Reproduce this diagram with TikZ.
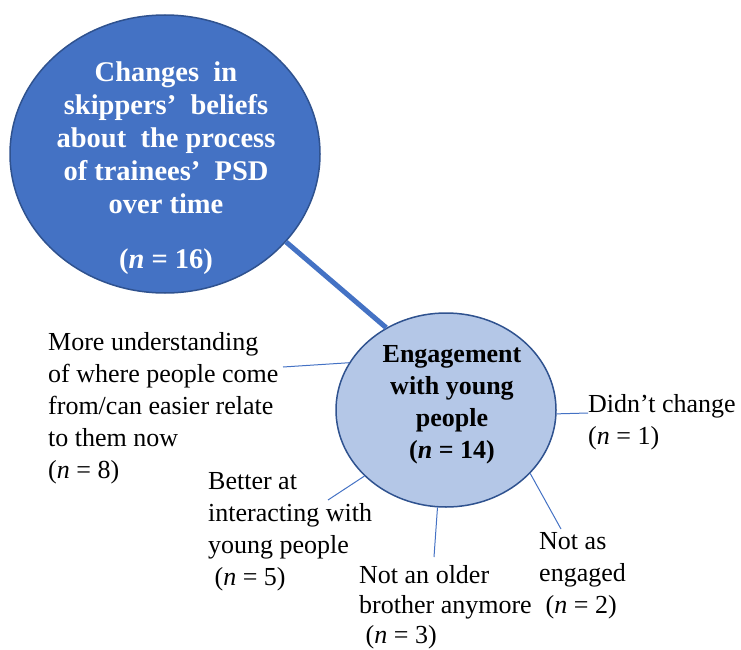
\documentclass[tikz,border=0pt]{standalone}
\usepackage{fontspec}
\setmainfont{Liberation Serif}
\usepackage{tikz}
\usetikzlibrary{shapes.geometric,positioning}
\definecolor{officeblue}{HTML}{4472C4}
\definecolor{officeline}{HTML}{2F528F}
\definecolor{officelight}{HTML}{B4C7E7}
\tikzset{
    bubble/.style={ellipse,draw=officeline,line width=1.5pt,inner sep=0pt},
    leaf/.style={anchor=north west,align=left,inner sep=0pt,font=\fontsize{26}{32}\selectfont},
    twig/.style={draw=officeblue,line width=1pt}
}

\begin{document}
\begin{tikzpicture}[x=1pt,y=-1pt]
    \useasboundingbox (0,0) rectangle (741,650);
    \node[bubble,fill=officeblue,minimum width=310pt,minimum height=278pt] at (165,154) (core) {};
    \node[align=center,text=white,font=\bfseries\fontsize{28.5}{33}\selectfont] at (166,168) (coretxt) {Changes\ \ in\\ skippers'\ \ beliefs\\ about\ \ the process\\ of trainees'\ \ PSD\\ over time\\[22pt] (\textit{n} = 16)};
    \node[bubble,fill=officelight,minimum width=220pt,minimum height=194pt] at (446,410) (hub) {};
    \node[align=center,font=\bfseries\fontsize{26}{32}\selectfont] at (452,405) (hubtxt) {Engagement\\ with young\\ people\\ (\textit{n} = 14)};
    \draw[officeblue,line width=5pt] (core.-36) -- (hub.126);
    % answers round the hub
    \node[leaf] at (48,332) (more) {More understanding\\ of where people come\\ from/can easier relate\\ to them now\\ (\textit{n} = 8)};
    \node[leaf] at (208,472) (better) {Better at\\ interacting with\\ young people\\ \ (\textit{n} = 5)};
    \node[leaf,font=\fontsize{26}{30}\selectfont] at (359,565) (older) {Not an older\\ brother anymore\\ \ (\textit{n} = 3)};
    \node[leaf] at (539,532) (engaged) {Not as\\ engaged\\ \ (\textit{n} = 2)};
    \node[leaf] at (588,394) (same) {Didn't change\\ (\textit{n} = 1)};
    \coordinate (moreend) at (283,367);
    \coordinate (betterend) at (328,500);
    \coordinate (olderend) at (434,557);
    \coordinate (engagedend) at (561,529);
    \coordinate (sameend) at (588,413);
    \path[twig]
    (hub.154) edge (moreend)
    (hub.219) edge (betterend)
    (hub.265) edge (olderend)
    (hub.-37) edge (engagedend)
    (hub.-2) edge (sameend)
    ;
\end{tikzpicture}
\end{document}
